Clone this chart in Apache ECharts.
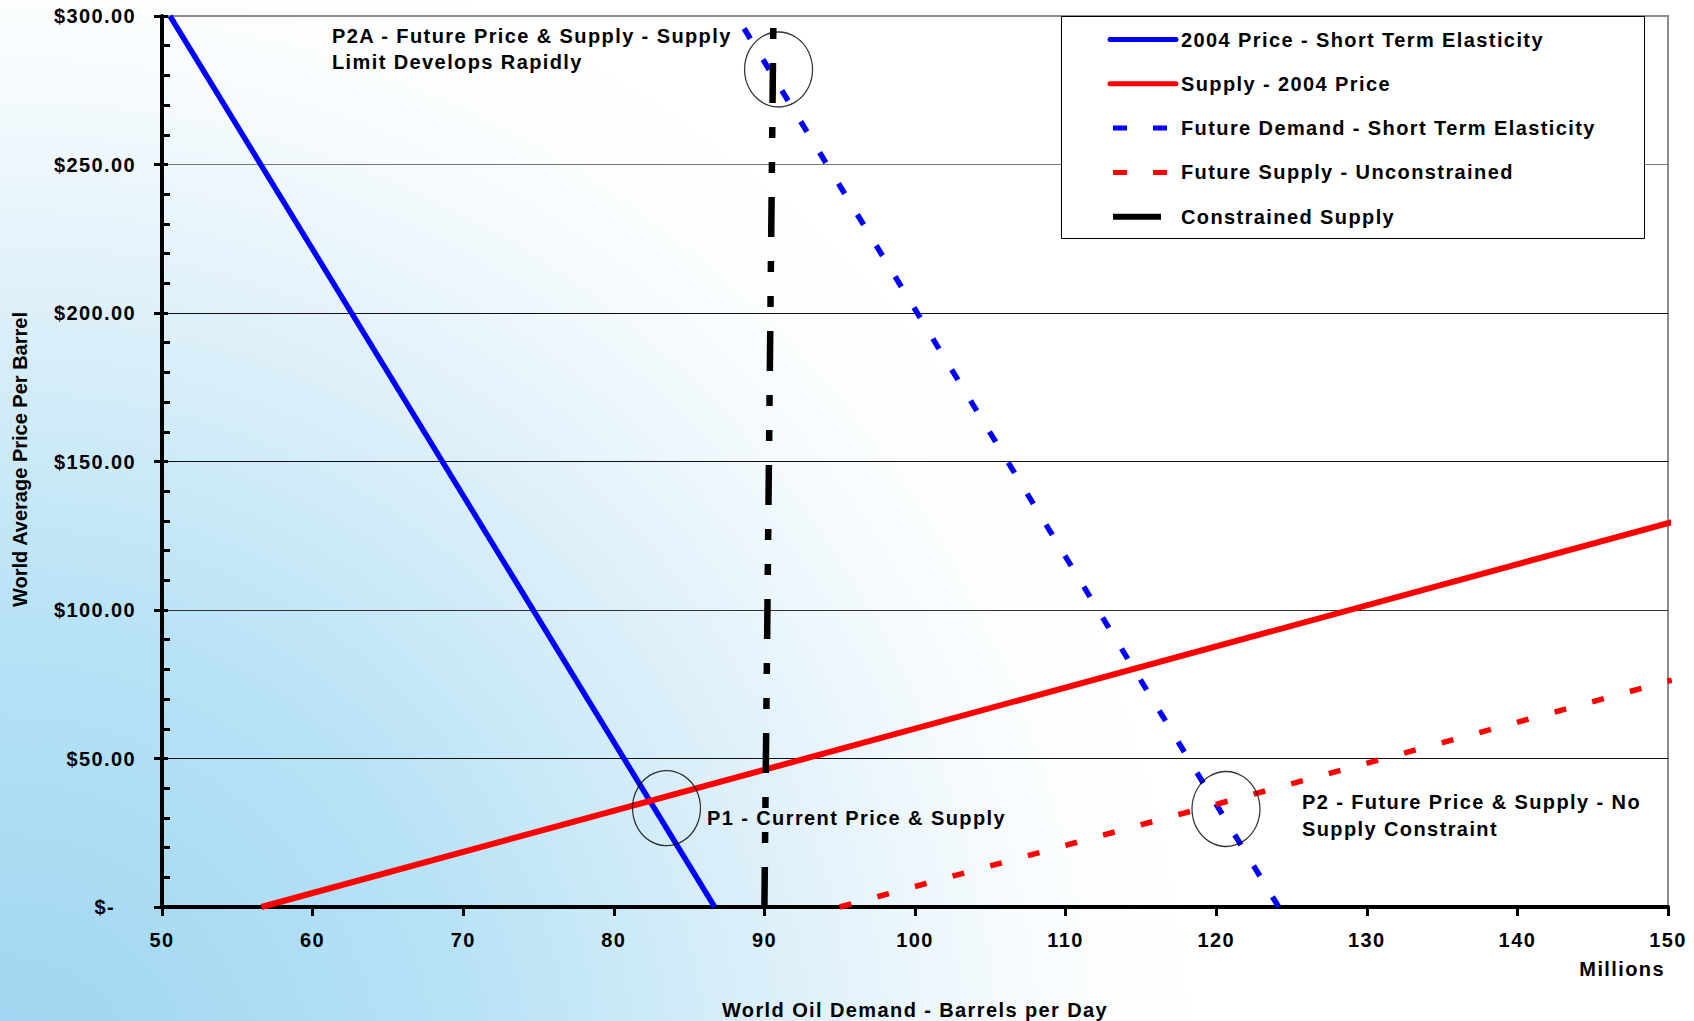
<!DOCTYPE html>
<html><head><meta charset="utf-8">
<style>
html,body{margin:0;padding:0;background:#fff;}
#chart{width:1694px;height:1021px;}
#chart text{letter-spacing:1.4px;}
</style>
<script src="https://cdn.jsdelivr.net/npm/echarts@6/dist/echarts.min.js"></script>
</head><body><div id="chart"></div>
<script>
// ---- data ----
const xTickLabels = ['50','60','70','80','90','100','110','120','130','140','150'];
const yTickLabels = ['$-\u00a0\u00a0\u00a0','$50.00','$100.00','$150.00','$200.00','$250.00','$300.00'];
const seriesNames = ['2004 Price - Short Term Elasticity','Supply - 2004 Price','Future Demand - Short Term Elasticity','Future Supply - Unconstrained','Constrained Supply'];
const demand2004X = [50.53, 86.7];
const demand2004Y = [300, 0];
const supply2004X = [56.6, 150.25];
const supply2004Y = [0, 129.6];
const futureDemandX = [124.15, 88.15];
const futureDemandY = [0, 300];
const futureSupplyX = [95, 150.25];
const futureSupplyY = [0, 76.4];
const constrainedX = [90, 90.6];
const constrainedY = [0, 300];
const markerX = [83.5, 90.94, 120.65];
const markerY = [33.3, 282, 33];
const noteP1 = 'P1 - Current Price & Supply';
const noteP2A = 'P2A - Future Price & Supply - Supply\nLimit Develops Rapidly';
const noteP2 = 'P2 - Future Price & Supply - No\nSupply Constraint';
const xTitle = 'World Oil Demand - Barrels per Day';
const yTitle = 'World Average Price Per Barrel';
const unitLabel = 'Millions';

const FF = "'Liberation Sans', Arial, sans-serif";
const FONT = "bold 20px " + FF;
function zip(a, b){ return a.map((v, i) => [v, b[i]]); }

const chart = echarts.init(document.getElementById('chart'), null, {renderer: 'svg', width: 1694, height: 1021});

function txt(text, x, y, align, valign, extra){
  return {
    type: 'text', x: x, y: y, z: 6, silent: true,
    style: Object.assign({text: text, font: FONT, fill: '#000',
      textAlign: align, align: align, textVerticalAlign: valign, verticalAlign: valign}, extra || {})
  };
}

const option = {
  animation: false,
  backgroundColor: '#ffffff',
  textStyle: {fontFamily: FF},
  grid: {left: 162, right: 26, top: 16, bottom: 114, containLabel: false, outerBoundsMode: 'none',
    show: true, borderColor: '#8c8c8c', borderWidth: 2, backgroundColor: 'transparent'},
  xAxis: {
    type: 'value', min: 50, max: 150, interval: 10,
    name: xTitle, nameLocation: 'middle', nameGap: 92.5,
    nameTextStyle: {fontSize: 20, fontWeight: 'bold', fontFamily: FF, color: '#000'},
    axisLine: {show: true, onZero: false, lineStyle: {color: '#000', width: 4}},
    axisTick: {show: true, inside: false, length: 9, lineStyle: {color: '#000', width: 3}},
    axisLabel: {margin: 23, fontSize: 20, fontWeight: 'bold', fontFamily: FF, color: '#000',
      formatter: v => xTickLabels[Math.round((v - 50) / 10)]},
    splitLine: {show: false}
  },
  yAxis: [{
    type: 'value', min: 0, max: 300, interval: 50, position: 'left',
    axisLine: {show: true, onZero: false, lineStyle: {color: '#000', width: 4}},
    axisTick: {show: true, inside: true, length: 6, lineStyle: {color: '#000', width: 3}},
    minorTick: {show: true, splitNumber: 5, length: 8, lineStyle: {color: '#000', width: 3}},
    axisLabel: {margin: 26, fontSize: 20, fontWeight: 'bold', fontFamily: FF, color: '#000',
      formatter: v => yTickLabels[Math.round(v / 50)]},
    splitLine: {show: true, lineStyle: {color: ['#000','#111','#333','#111','#111','#777','#8c8c8c'], width: 1}}
  }, {
    type: 'value', min: 0, max: 300, interval: 50, position: 'left', offset: 0,
    axisLine: {show: false},
    axisTick: {show: true, inside: false, length: 8, lineStyle: {color: '#000', width: 3}},
    axisLabel: {show: false},
    splitLine: {show: false}
  }],
  legend: {
    orient: 'vertical', left: 1107, top: 29.5, padding: 0,
    itemWidth: 66, itemHeight: 10, itemGap: 24.3, selectedMode: false,
    textStyle: {fontSize: 20, fontWeight: 'bold', fontFamily: FF, color: '#000'},
    itemStyle: {opacity: 0, color: 'rgba(0,0,0,0)', borderWidth: 0},
    lineStyle: {width: 5},
    data: [
      {name: seriesNames[0], lineStyle: {cap: 'round'}},
      {name: seriesNames[1], lineStyle: {cap: 'round'}},
      {name: seriesNames[2], lineStyle: {type: [14, 26], dashOffset: -3}},
      {name: seriesNames[3], lineStyle: {type: [14, 26], dashOffset: -3}},
      {name: seriesNames[4], lineStyle: {type: [48, 40], dashOffset: -3, width: 6}}
    ]
  },
  graphic: [
    {type: 'rect', z: -10, silent: true, shape: {x: 0, y: 0, width: 1694, height: 1021},
      style: {fill: {type: 'radial', x: 0, y: 1100, r: 1200, global: true,
        colorStops: [{offset: 0, color: '#9bd4f0'}, {offset: 0.4, color: '#b8e2f6'},
                     {offset: 0.68, color: '#e0f1fa'}, {offset: 0.88, color: '#f9fcfe'}, {offset: 1, color: '#ffffff'}]}}},
    {type: 'rect', z: 3, silent: true, shape: {x: 1061.5, y: 16.5, width: 583, height: 222},
      style: {fill: '#ffffff', stroke: '#000', lineWidth: 1}},
    txt(noteP2A, 332, 22.5, 'left', 'top', {lineHeight: 26}),
    txt(noteP1, 707, 818, 'left', 'middle'),
    txt(noteP2, 1302, 788.5, 'left', 'top', {lineHeight: 27}),
    txt(unitLabel, 1665, 968.5, 'right', 'middle'),
    Object.assign(txt(yTitle, 20, 459.5, 'center', 'middle'), {rotation: Math.PI / 2})
  ],
  series: [
    {name: seriesNames[0], type: 'line', data: zip(demand2004X, demand2004Y), symbol: 'none', clip: false,
      lineStyle: {color: '#0000ff', width: 5.5}, itemStyle: {color: '#0000ff'}, z: 2},
    {name: seriesNames[1], type: 'line', data: zip(supply2004X, supply2004Y), symbol: 'none', clip: false,
      lineStyle: {color: '#ff0000', width: 6}, itemStyle: {color: '#ff0000'}, z: 2},
    {name: seriesNames[2], type: 'line', data: zip(futureDemandX, futureDemandY), symbol: 'none', clip: false,
      lineStyle: {color: '#0000ff', width: 5.5, type: [12, 24.3]}, itemStyle: {color: '#0000ff'}, z: 2},
    {name: seriesNames[3], type: 'line', data: zip(futureSupplyX, futureSupplyY), symbol: 'none', clip: false,
      lineStyle: {color: '#ff0000', width: 5.5, type: [12, 27]}, itemStyle: {color: '#ff0000'}, z: 2},
    {name: seriesNames[4], type: 'line', data: zip(constrainedX, constrainedY), symbol: 'none', clip: false,
      lineStyle: {color: '#000000', width: 6.5, type: [40, 24, 11, 24, 11, 24]}, itemStyle: {color: '#000'}, z: 2},
    {name: 'markers', type: 'scatter', data: zip(markerX, markerY), symbol: 'circle', symbolSize: [68, 75],
      itemStyle: {color: 'rgba(0,0,0,0)', borderColor: '#000', borderWidth: 1.3}, silent: true, z: 3,
      emphasis: {disabled: true}}
  ]
};
chart.setOption(option);

function fixSpacing(){
  document.querySelectorAll('#chart text').forEach(t => {
    if (t.textContent.indexOf('World Average') >= 0) t.style.letterSpacing = '0px';
  });
}
chart.on('finished', fixSpacing);
setTimeout(fixSpacing, 30);
setTimeout(fixSpacing, 200);
</script></body></html>
